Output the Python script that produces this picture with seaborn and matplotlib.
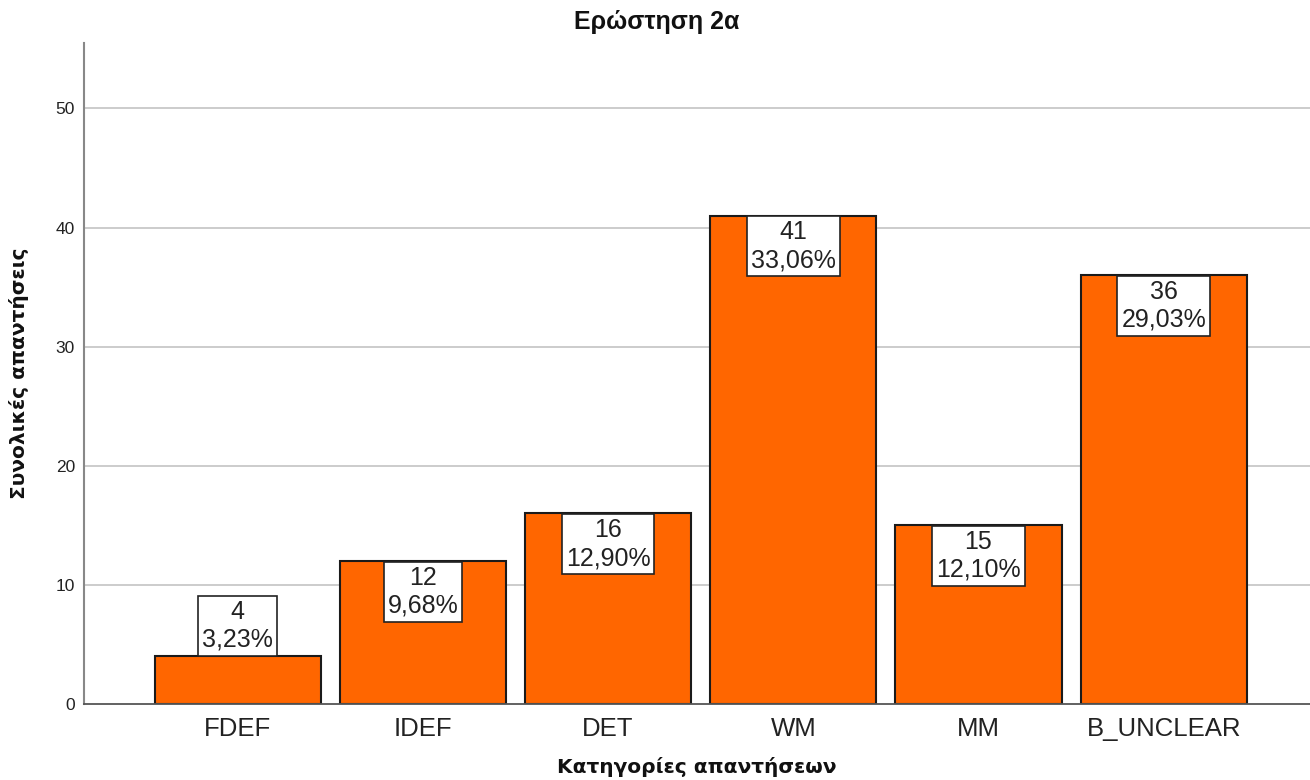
import matplotlib
matplotlib.use("Agg")
import matplotlib.pyplot as plt
import seaborn as sns
import pandas as pd

categories = ["FDEF", "IDEF", "DET", "WM", "MM", "B_UNCLEAR"]
counts = [4, 12, 16, 41, 15, 36]
y_ticks = [0, 10, 20, 30, 40, 50]

total = sum(counts)
df = pd.DataFrame({"category": categories, "count": counts})

sns.set_theme(style="white")
plt.rcParams["font.family"] = ["Liberation Sans", "DejaVu Sans"]

fig = plt.figure(figsize=(13.1, 7.8), dpi=100)
ax = fig.add_axes([0.0641, 0.0974, 0.9359, 0.8475])

sns.barplot(data=df, x="category", y="count", color="#FF6600", saturation=1,
            width=0.897, edgecolor="#1a1a1a", linewidth=1.5, ax=ax, zorder=3)

ax.set_ylim(0, 55.5)
ax.set_xlim(-0.83, 5.79)
ax.set_yticks(y_ticks)
ax.set_yticklabels([str(t) for t in y_ticks], fontsize=12.5, color="#222222")
ax.tick_params(axis="x", labelsize=18.5, colors="#222222", length=0, pad=9)
ax.tick_params(axis="y", length=0, pad=6.5)
for t in y_ticks[1:]:
    ax.axhline(t, color="#c8c8c8", linewidth=1.3, zorder=1)

for s in ["top", "right"]:
    ax.spines[s].set_visible(False)
ax.spines["left"].set_color("#888888")
ax.spines["left"].set_linewidth(1.5)
ax.spines["bottom"].set_color("#555555")
ax.spines["bottom"].set_linewidth(1.3)
ax.spines["bottom"].set_zorder(4)

# value / percentage boxes: inside the top of tall bars, above short ones
px_per_unit = (0.8475 * 780) / 55.5
pad_px = 4.0
label_size = 18
box_units = 64 / px_per_unit
for i, v in enumerate(counts):
    pct = f"{v / total * 100:.2f}".replace(".", ",") + "%"
    label = f"{v}\n{pct}"
    off = (pad_px + 0.8) / px_per_unit
    if v > box_units:
        y, va = v - off, "top"
    else:
        y, va = v + off, "bottom"
    ax.text(i, y, label, ha="center", va=va, fontsize=label_size, color="#222222",
            linespacing=1.2, zorder=5,
            bbox=dict(boxstyle=f"square,pad={pad_px / (label_size * 100 / 72):.3f}",
                      facecolor="white", edgecolor="#222222", linewidth=1.2))

fig.suptitle("Ερώστηση 2α", x=0.5015, y=0.972, fontsize=18, fontweight="bold",
             color="#111111", va="center")
ax.set_xlabel("Κατηγορίες απαντήσεων", fontsize=14.5, fontweight="bold",
              family="DejaVu Sans", color="#111111", labelpad=12)
ax.set_ylabel("Συνολικές απαντήσεις", fontsize=14.5, fontweight="bold",
              family="DejaVu Sans", color="#111111", labelpad=12)
ax.yaxis.set_label_coords(-0.045, 0.5)

fig.savefig("out.png", dpi=100)
